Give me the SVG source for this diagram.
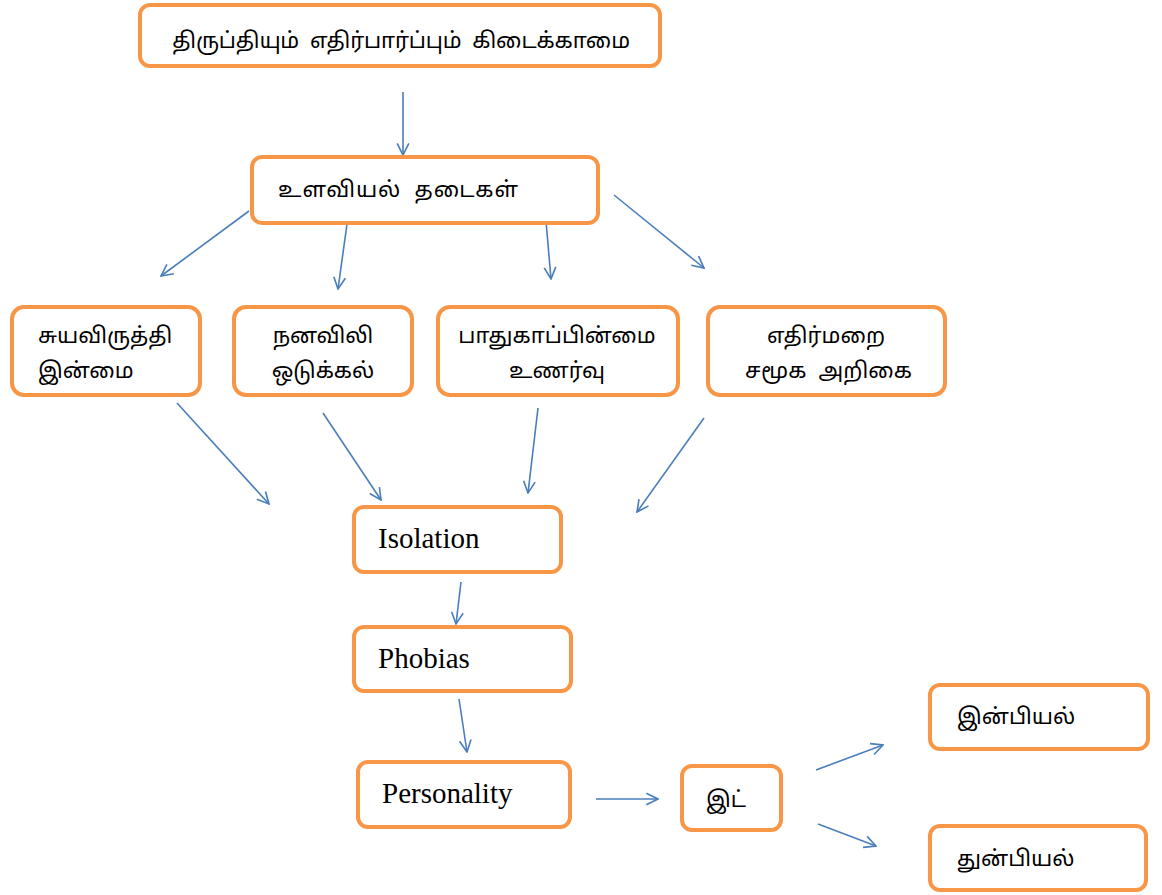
<svg xmlns="http://www.w3.org/2000/svg" width="1162" height="895" viewBox="0 0 1162 895">
<style>
.box{fill:#fff;stroke:#F79646;stroke-width:4}
.ta{font-family:"Noto Sans Tamil","Lohit Tamil","Noto Serif Tamil",sans-serif;font-size:22px;fill:#000;white-space:pre}
.en{font-family:"Liberation Serif",serif;font-size:29px;fill:#000}
.c{stroke:#4A7EBB;stroke-width:1.6;fill:none}
</style>
<defs>
<marker id="a" viewBox="0 0 12 12" refX="11" refY="6" markerWidth="14" markerHeight="14" markerUnits="userSpaceOnUse" orient="auto">
<path d="M1,1 L11,6 L1,11" fill="none" stroke="#4A7EBB" stroke-width="1.4"/>
</marker>
</defs>
<g id="connectors">
<line class="c" marker-end="url(#a)" x1="403" y1="92" x2="403" y2="155"/>
<line class="c" marker-end="url(#a)" x1="249" y1="211" x2="161" y2="276"/>
<line class="c" marker-end="url(#a)" x1="347" y1="224" x2="338" y2="289"/>
<line class="c" marker-end="url(#a)" x1="546" y1="221" x2="551" y2="279"/>
<line class="c" marker-end="url(#a)" x1="614" y1="195" x2="704" y2="268"/>
<line class="c" marker-end="url(#a)" x1="177" y1="403" x2="269" y2="504"/>
<line class="c" marker-end="url(#a)" x1="323" y1="413" x2="381" y2="500"/>
<line class="c" marker-end="url(#a)" x1="538" y1="408" x2="528" y2="493"/>
<line class="c" marker-end="url(#a)" x1="704" y1="418" x2="637" y2="512"/>
<line class="c" marker-end="url(#a)" x1="461" y1="582" x2="456" y2="624"/>
<line class="c" marker-end="url(#a)" x1="459" y1="699" x2="467" y2="752"/>
<line class="c" marker-end="url(#a)" x1="596" y1="799" x2="658" y2="799"/>
<line class="c" marker-end="url(#a)" x1="816" y1="770" x2="883" y2="745"/>
<line class="c" marker-end="url(#a)" x1="818" y1="824" x2="876" y2="846"/>
</g>
<g id="n1"><rect class="box" x="140" y="5" width="520" height="61" rx="10"/><text class="ta" x="172" y="48" textLength="458" lengthAdjust="spacing">திருப்தியும்  எதிர்பார்ப்பும்  கிடைக்காமை</text></g>
<g id="n2"><rect class="box" x="252" y="157" width="346" height="66" rx="10"/><text class="ta" x="278" y="197" textLength="240" lengthAdjust="spacing">உளவியல்  தடைகள்</text></g>
<g id="n3"><rect class="box" x="12" y="307" width="188" height="88" rx="12"/><text class="ta" x="38" y="343">சுயவிருத்தி</text><text class="ta" x="38" y="378">இன்மை</text></g>
<g id="n4"><rect class="box" x="234" y="307" width="178" height="88" rx="12"/><text class="ta" x="323" y="343" text-anchor="middle">நனவிலி</text><text class="ta" x="323" y="378" text-anchor="middle">ஒடுக்கல்</text></g>
<g id="n5"><rect class="box" x="438" y="307" width="240" height="88" rx="12"/><text class="ta" x="557" y="343" text-anchor="middle">பாதுகாப்பின்மை</text><text class="ta" x="557" y="378" text-anchor="middle">உணர்வு</text></g>
<g id="n6"><rect class="box" x="708" y="307" width="237" height="88" rx="12"/><text class="ta" x="826" y="343" text-anchor="middle">எதிர்மறை</text><text class="ta" x="745" y="378" textLength="167" lengthAdjust="spacing">சமூக  அறிகை</text></g>
<g id="n7"><rect class="box" x="354" y="507" width="207" height="65" rx="10"/><text class="en" x="378" y="548">Isolation</text></g>
<g id="n8"><rect class="box" x="354" y="627" width="217" height="64" rx="10"/><text class="en" x="378" y="668">Phobias</text></g>
<g id="n9"><rect class="box" x="358" y="762" width="212" height="65" rx="10"/><text class="en" x="382" y="803">Personality</text></g>
<g id="n10"><rect class="box" x="682" y="766" width="99" height="64" rx="10"/><text class="ta" x="706" y="807">இட்</text></g>
<g id="n11"><rect class="box" x="930" y="685" width="218" height="64" rx="10"/><text class="ta" x="957" y="724">இன்பியல்</text></g>
<g id="n12"><rect class="box" x="930" y="826" width="216" height="64" rx="10"/><text class="ta" x="957" y="866">துன்பியல்</text></g>
</svg>
